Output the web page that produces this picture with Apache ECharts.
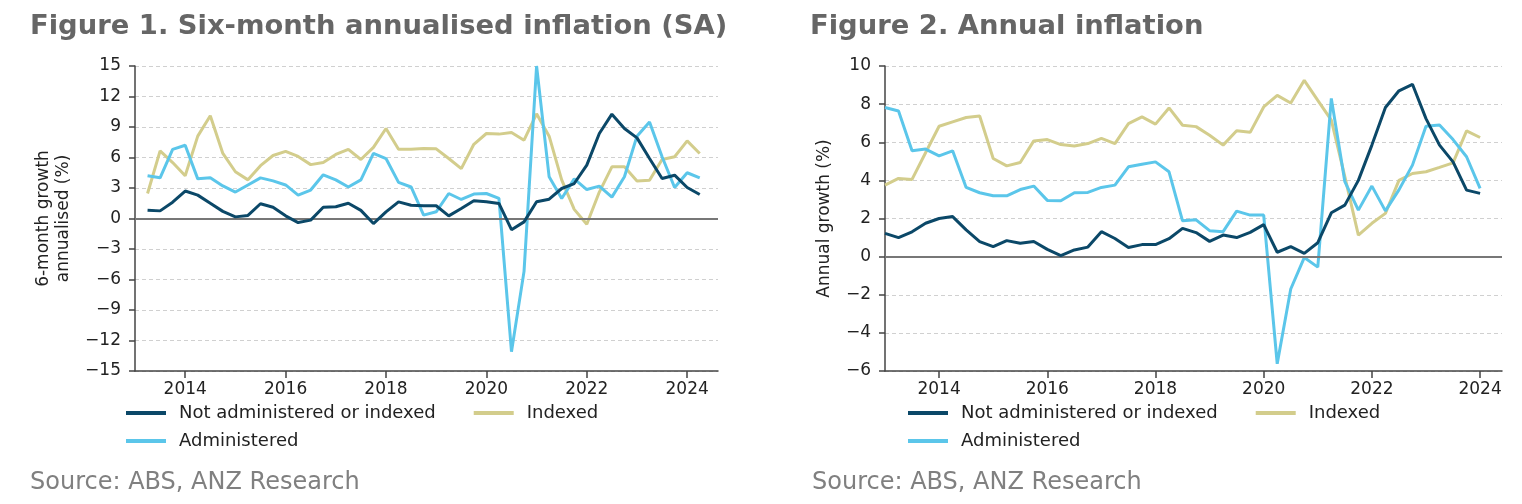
<!DOCTYPE html>
<html><head><meta charset="utf-8">
<script src="https://cdn.jsdelivr.net/npm/echarts@6/dist/echarts.min.js"></script>
<style>html,body{margin:0;padding:0;background:#fff}#c{width:1522px;height:504px}</style>
</head><body><div id="c"></div>
<script>
// Quarter labels (Figure 1: Mar-13 .. Mar-24, Figure 2: Dec-12 .. Dec-23)
const leftQuarters = ['Mar-13','Jun-13','Sep-13','Dec-13','Mar-14','Jun-14','Sep-14','Dec-14','Mar-15','Jun-15','Sep-15','Dec-15','Mar-16','Jun-16','Sep-16','Dec-16','Mar-17','Jun-17','Sep-17','Dec-17','Mar-18','Jun-18','Sep-18','Dec-18','Mar-19','Jun-19','Sep-19','Dec-19','Mar-20','Jun-20','Sep-20','Dec-20','Mar-21','Jun-21','Sep-21','Dec-21','Mar-22','Jun-22','Sep-22','Dec-22','Mar-23','Jun-23','Sep-23','Dec-23','Mar-24'];
const rightQuarters = ['Dec-12','Mar-13','Jun-13','Sep-13','Dec-13','Mar-14','Jun-14','Sep-14','Dec-14','Mar-15','Jun-15','Sep-15','Dec-15','Mar-16','Jun-16','Sep-16','Dec-16','Mar-17','Jun-17','Sep-17','Dec-17','Mar-18','Jun-18','Sep-18','Dec-18','Mar-19','Jun-19','Sep-19','Dec-19','Mar-20','Jun-20','Sep-20','Dec-20','Mar-21','Jun-21','Sep-21','Dec-21','Mar-22','Jun-22','Sep-22','Dec-22','Mar-23','Jun-23','Sep-23','Dec-23'];

// Figure 1: six-month annualised (%)
const leftNotAdmin = [0.82,0.75,1.6,2.7,2.3,1.5,0.7,0.16,0.3,1.45, 1.1,0.26,-0.4,-0.16,1.1,1.15,1.5,0.8,-0.5,0.65, 1.64,1.31,1.25,1.25,0.26,0.98,1.74,1.64,1.48,-1.1, -0.33,1.64,1.9,2.95,3.44,5.25,8.36,10.26,8.85,7.93, 5.9,3.93,4.26,3.05,2.36];
const leftAdmin = [4.2,4.0,6.8,7.2,3.9,4.0,3.2,2.6,3.3,4.0, 3.7,3.3,2.3,2.8,4.3,3.8,3.1,3.8,6.4,5.9, 3.55,3.1,0.33,0.66,2.46,1.87,2.4,2.46,1.97,-13.1, -5.2,15.0,4.1,1.97,3.9,2.85,3.18,2.1,4.1,8.1, 9.5,6.07,3.05,4.5,4.0];
const leftIndexed = [2.46,6.65,5.5,4.2,8.1,10.1,6.4,4.6,3.8,5.2, 6.2,6.6,6.1,5.3,5.5,6.3,6.8,5.8,7.0,8.85, 6.82,6.8,6.89,6.85,5.9,4.9,7.3,8.36,8.3,8.46, 7.7,10.3,8.1,3.8,0.9,-0.56,2.6,5.08,5.08,3.7, 3.77,5.8,6.07,7.64,6.4];

// Figure 2: annual growth (%)
const rightNotAdmin = [1.22,1.0,1.3,1.75,2.0,2.1,1.4,0.79,0.52,0.84, 0.7,0.79,0.38,0.05,0.35,0.5,1.31,0.95,0.48,0.63, 0.63,0.94,1.48,1.26,0.8,1.13,1.0,1.27,1.68,0.23, 0.52,0.17,0.73,2.3,2.7,4.0,5.85,7.82,8.7,9.04, 7.24,5.85,4.97,3.49,3.32];
const rightAdmin = [7.82,7.64,5.55,5.64,5.29,5.55,3.63,3.35,3.19,3.19, 3.52,3.7,2.95,2.93,3.35,3.37,3.63,3.75,4.71,4.85, 4.97,4.45,1.88,1.93,1.36,1.31,2.39,2.18,2.18,-5.62, -1.7,-0.05,-0.55,8.3,3.93,2.44,3.7,2.4,3.5,4.8, 6.84,6.9,6.14,5.24,3.58];
const rightIndexed = [3.75,4.1,4.05,5.45,6.84,7.07,7.3,7.38,5.15,4.76, 4.94,6.07,6.14,5.88,5.8,5.93,6.2,5.93,6.98,7.33, 6.95,7.8,6.89,6.82,6.37,5.85,6.6,6.52,7.85,8.46, 8.06,9.25,8.2,7.16,4.2,1.13,1.75,2.27,4.0,4.36, 4.45,4.68,4.92,6.6,6.25];

const yearTicks = [2014, 2016, 2018, 2020, 2022, 2024];
const seriesNames = ['Not administered or indexed', 'Indexed', 'Administered'];
const titles = ['Figure 1. Six-month annualised inflation (SA)', 'Figure 2. Annual inflation'];
const yNames = ['6-month growth\nannualised (%)', 'Annual growth (%)'];
const sourceText = 'Source: ABS, ANZ Research';

const FONT = 'DejaVu Sans';
const C_NAVY = '#0b4868', C_BLUE = '#5bc6ea', C_KHAKI = '#d3cd8c';
const AX = '#444';

function toYear(q) {
  const m = {Mar:3, Jun:6, Sep:9, Dec:12}[q.slice(0,3)];
  return 2000 + Number(q.slice(4)) + m / 12;
}
function pts(qs, vals) { return qs.map((q, i) => [toYear(q), vals[i]]); }
function minusFmt(v) { return v < 0 ? '\u2212' + Math.abs(v) : String(v); }

function line(name, color, idx, qs, vals, z, extra) {
  return Object.assign({
    type: 'line', name, xAxisIndex: idx, yAxisIndex: idx,
    data: pts(qs, vals), symbol: 'none', showSymbol: false,
    lineStyle: {color, width: 3}, itemStyle: {color}, z
  }, extra || {});
}
const zeroLine = {
  silent: true, symbol: ['none','none'], label: {show: false},
  lineStyle: {color: '#777', width: 2, type: 'solid'}, data: [{yAxis: 0}], animation: false
};

function xAxis(idx, max) {
  return {
    gridIndex: idx, type: 'value', min: 2013, max,
    axisLine: {show: true, onZero: false, lineStyle: {color: AX, width: 1.5}},
    axisTick: {show: true, customValues: yearTicks, length: 7, lineStyle: {color: AX, width: 1.5}},
    axisLabel: {customValues: yearTicks, fontFamily: FONT, fontSize: 17, color: '#222', margin: 10,
      formatter: v => String(Math.round(v))},
    splitLine: {show: false}
  };
}
function yAxis(idx, min, max, interval, name, gap) {
  return {
    gridIndex: idx, type: 'value', min, max, interval,
    axisLine: {show: true, lineStyle: {color: AX, width: 1.5}},
    axisTick: {show: true, length: 6, lineStyle: {color: AX, width: 1.5}},
    axisLabel: {fontFamily: FONT, fontSize: 17, color: '#222', margin: 14, formatter: minusFmt},
    splitLine: {show: true, lineStyle: {color: '#d0d0d0', width: 1, type: [4, 3]}},
    name, nameLocation: 'middle', nameGap: gap,
    nameTextStyle: {fontFamily: FONT, fontSize: 17, color: '#222', lineHeight: 20}
  };
}
function legend(left, top, data) {
  return {
    left, top, data, padding: 0, itemGap: 38, itemWidth: 40, itemHeight: 4, icon: 'rect',
    selectedMode: false,
    textStyle: {fontFamily: FONT, fontSize: 18, color: '#222', lineHeight: 20, padding: [0, 0, 0, 8]}
  };
}
function title(text, left, top, size, bold, color, lh) {
  return {text, left, top, padding: 0,
    textStyle: {fontFamily: FONT, fontSize: size, fontWeight: bold ? 'bold' : 'normal', color, lineHeight: lh}};
}

const chart = echarts.init(document.getElementById('c'));
chart.setOption({
  animation: false,
  backgroundColor: '#fff',
  title: [
    title(titles[0], 30, 11, 27.4, true, '#666', 32),
    title(titles[1], 810, 11, 27.4, true, '#666', 32),
    title(sourceText, 30, 469, 24, false, '#808080', 28),
    title(sourceText, 812, 469, 24, false, '#808080', 28)
  ],
  legend: [
    legend(126, 403, [seriesNames[0], seriesNames[1]]),
    legend(126, 431, [seriesNames[2]]),
    legend(908, 403, [seriesNames[0], seriesNames[1]]),
    legend(908, 431, [seriesNames[2]])
  ],
  grid: [
    {left: 135, top: 66, width: 583, height: 305},
    {left: 885, top: 66, width: 617, height: 305}
  ],
  xAxis: [xAxis(0, 2024.614), xAxis(1, 2024.405)],
  yAxis: [
    yAxis(0, -15, 15, 3, yNames[0], 61),
    yAxis(1, -6, 10, 2, yNames[1], 50)
  ],
  series: [
    line(seriesNames[1], C_KHAKI, 0, leftQuarters, leftIndexed, 3, {markLine: zeroLine}),
    line(seriesNames[2], C_BLUE, 0, leftQuarters, leftAdmin, 4),
    line(seriesNames[0], C_NAVY, 0, leftQuarters, leftNotAdmin, 5),
    line(seriesNames[1], C_KHAKI, 1, rightQuarters, rightIndexed, 3, {markLine: zeroLine}),
    line(seriesNames[2], C_BLUE, 1, rightQuarters, rightAdmin, 4),
    line(seriesNames[0], C_NAVY, 1, rightQuarters, rightNotAdmin, 5)
  ]
});
</script>
</body></html>
